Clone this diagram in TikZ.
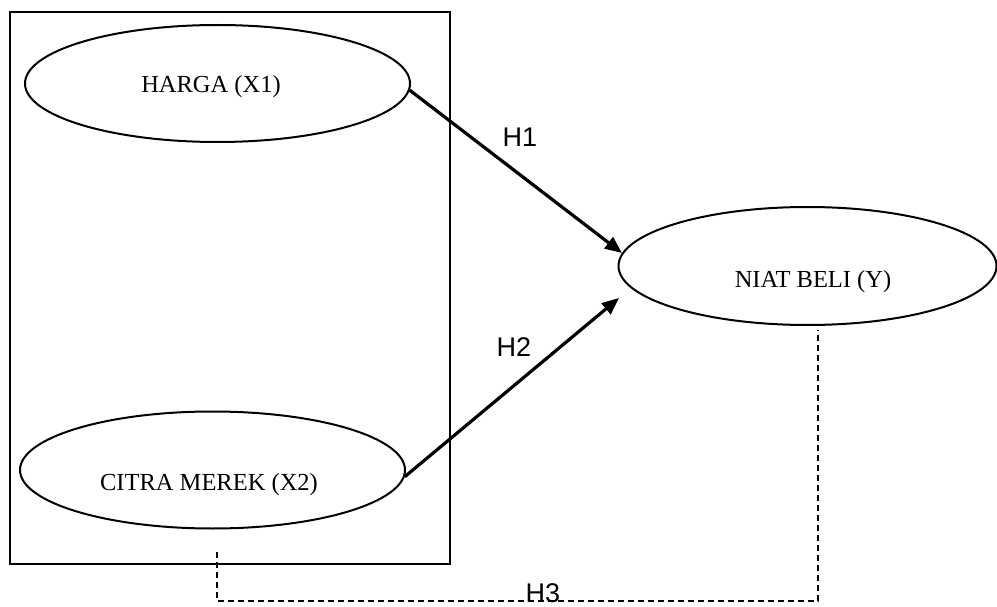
\documentclass[tikz,border=0pt]{standalone}
\usepackage{fontspec}
\setmainfont{Liberation Serif}
\newfontfamily\hfont{Liberation Sans}
\usetikzlibrary{shapes.geometric,arrows.meta}
\tikzset{
  var/.style={ellipse, draw, line width=2pt, inner sep=0pt, minimum width=385pt, minimum height=117pt},
  vtext/.style={font=\fontsize{24.5}{29}\selectfont, inner sep=0pt},
  hlabel/.style={font=\hfont\fontsize{27}{32}\selectfont, inner sep=0pt},
  arr/.style={line width=3.2pt, -{Triangle[length=17pt,width=14pt]}},
  dline/.style={line width=1.4pt, dash pattern=on 6pt off 4pt},
  outer/.style={draw, line width=2pt, minimum width=440pt, minimum height=552pt, inner sep=0pt}
}
\begin{document}
\begin{tikzpicture}[x=1pt,y=-1pt]
\useasboundingbox (0,0) rectangle (997,607);
\node[outer] (box) at (230,288) {};
\node[var] (harga) at (217.5,83.5) {};
\node[var] (citra) at (212.5,470) {};
\node[var, minimum width=378pt, minimum height=118pt] (niat) at (807.5,266) {};
\node[vtext] (tharga) at (211,87) {HARGA (X1)};
\node[vtext] (tcitra) at (209,485) {CITRA MEREK (X2)};
\node[vtext] (tniat) at (813,282) {NIAT BELI (Y)};
\coordinate (h2end) at (619,298);
\coordinate (d1) at (217,552);
\coordinate (d2) at (217,601);
\coordinate (d3) at (818,601);
\coordinate (d4) at (818,330);
\draw[arr] (harga.-2) -- (niat.176);
\draw[arr] (citra.-2) -- (h2end);
\draw[dline] (d1) -- (d2) -- (d3) -- (d4);
\node[hlabel] (h1) at (520,137) {H1};
\node[hlabel] (h2) at (514,347) {H2};
\node[hlabel] (h3) at (543,593) {H3};
\end{tikzpicture}
\end{document}
